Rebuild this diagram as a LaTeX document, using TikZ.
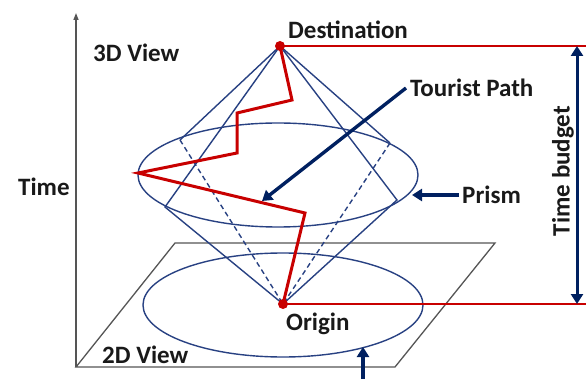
\documentclass[tikz,border=0pt]{standalone}
\usepackage{fontspec}
\setmainfont{Carlito}
\usepackage{xcolor}
\usetikzlibrary{calc,arrows.meta}
\definecolor{navy}{RGB}{0,32,96}
\definecolor{cone}{RGB}{40,65,130}
\definecolor{pathred}{RGB}{200,0,0}
\definecolor{axisgray}{RGB}{85,85,85}
\tikzset{
	lbl/.style={inner sep=0pt, font=\fontsize{25}{28}\selectfont\bfseries, text=black!90},
	conel/.style={cone, line width=1.4pt},
	arr/.style={navy, line width=3.4pt, -{Triangle[length=10pt,width=12pt]}},
}
\begin{document}
\begin{tikzpicture}[x=1pt, y=-1pt]
		\useasboundingbox (0,0) rectangle (586,379);
		% 顶点
		\coordinate (D) at (280,46);
		\coordinate (O) at (283,304);
		
		% 坐标轴与平面
		\coordinate (axTop) at (76,13);
		\coordinate (axO) at (76,367);
		\coordinate (pl1) at (395,367);
		\coordinate (pl2) at (495,243);
		\coordinate (pl3) at (175,243);
		\draw[axisgray, line width=1.3pt, -{Triangle[length=7pt,width=5pt]}] (axO) -- (axTop);
		\draw[axisgray, line width=1.3pt] (axO) -- (pl1) -- (pl2) -- (pl3) -- cycle;
		
		% 椭圆
		\coordinate (Ctop) at (278,175);
		\coordinate (Cbot) at (283,305);
		\draw[conel] (Ctop) ellipse [x radius=140, y radius=52];
		\draw[conel] (Cbot) ellipse [x radius=140, y radius=52];
		
		% 棱锥
		\coordinate (P1) at (180,140);
		\coordinate (P2) at (165,207);
		\coordinate (P3) at (397,200);
		\coordinate (P4) at (390,143);
		\draw[conel] (D) -- (P1);
		\draw[conel] (D) -- (P2) -- (O);
		\draw[conel] (D) -- (P3) -- (O);
		\draw[conel] (D) -- (P4);
		\draw[conel, dashed, dash pattern=on 5pt off 3.5pt] (P1) -- (O);
		\draw[conel, dashed, dash pattern=on 5pt off 3.5pt] (P4) -- (O);
		
		% 红色路径
		\draw[pathred, line width=3pt, line join=miter]
			(D) -- (292,100) -- (237,113) -- (237,153) -- (138,173) -- (305,213) -- (O);
		\coordinate (Dr) at (586,46);
		\coordinate (Or) at (586,304);
		\draw[pathred, line width=1.6pt] (D) -- (Dr);
		\draw[pathred, line width=1.6pt] (O) -- (Or);
		\fill[pathred] (D) circle (5);
		\fill[pathred] (O) circle (5);
		
		% 时间预算
		\coordinate (tbTop) at (577,46);
		\coordinate (tbBot) at (577,304);
		\draw[navy, line width=3pt, {Triangle[length=10pt,width=12pt]}-{Triangle[length=10pt,width=12pt]}] (tbTop) -- (tbBot);
		\node[lbl, rotate=90] (tb) at (563,171) {Time budget};
		
		% 文字标注
		\node[lbl, anchor=west] (dest) at (288,30) {Destination};
		\node[lbl, anchor=west] (orig) at (286,324) {Origin};
		\node[lbl, anchor=west] (v3) at (93,53) {3D View};
		\node[lbl, anchor=west] (v2) at (102,355) {2D View};
		\node[lbl, anchor=west] (time) at (18,187) {Time};
		\node[lbl, anchor=west] (tp) at (410,88) {Tourist Path};
		\node[lbl, anchor=west] (prism) at (462,195) {Prism};
		
		% 箭头
		\coordinate (tpTip) at (262,201);
		\coordinate (prTip) at (412,195);
		\coordinate (btTip) at (363,347);
		\coordinate (btFoot) at (363,382);
		\draw[arr] ($(tp.west)+(-4,0)$) -- (tpTip);
		\draw[arr] ($(prism.west)+(-3,0)$) -- (prTip);
		\draw[arr] (btFoot) -- (btTip);
	\end{tikzpicture}
\end{document}
